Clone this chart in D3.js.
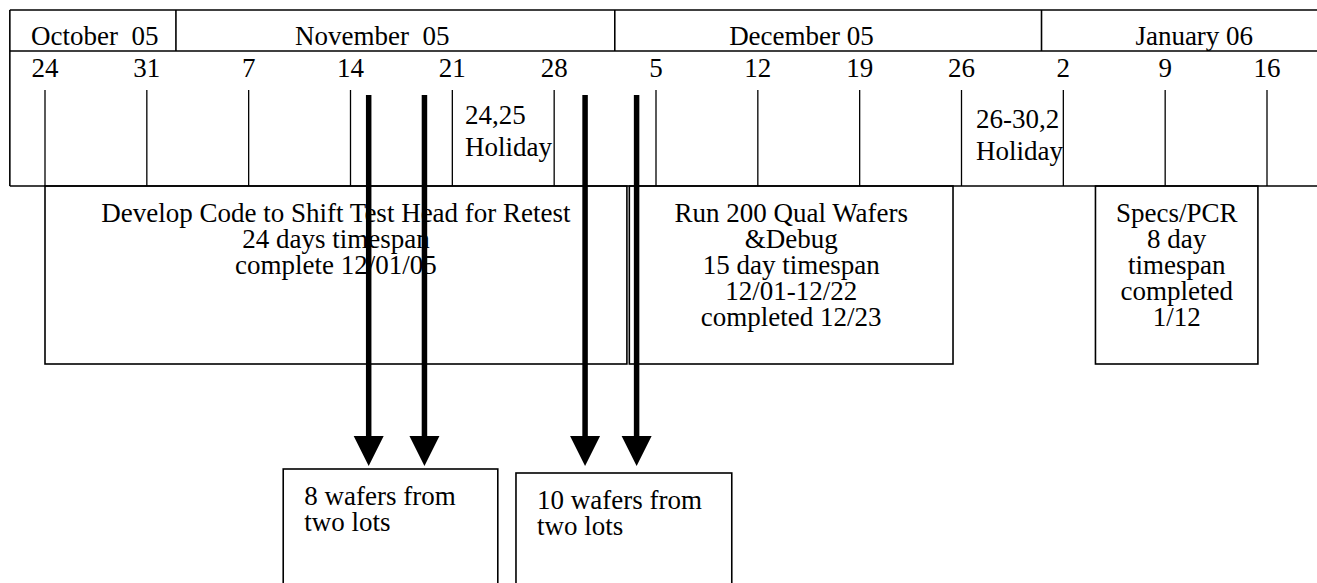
<!DOCTYPE html>
<html>
<head>
<meta charset="utf-8">
<script src="https://cdn.jsdelivr.net/npm/d3@7"></script>
<style>
  html, body { margin: 0; padding: 0; background: #fff; }
  svg text { font-family: "Liberation Serif", "Times New Roman", serif; font-size: 27px; fill: #000; white-space: pre; }
</style>
</head>
<body>
<div id="chart"></div>
<script>
// calendar header
var months = ["October  05", "November  05", "December 05", "January 06"];
var monthEdges = ["2005-10-21T14:00", "2005-11-02T00:00", "2005-12-02T04:00", "2005-12-31T12:00", "2006-01-21T00:00"];
var monthLabelDates = ["2005-10-27T10:00", "2005-11-15T12:00", "2005-12-15T00:00", "2006-01-11T00:00"];
var weekStarts = ["2005-10-24", "2005-10-31", "2005-11-07", "2005-11-14", "2005-11-21", "2005-11-28",
                  "2005-12-05", "2005-12-12", "2005-12-19", "2005-12-26", "2006-01-02", "2006-01-09", "2006-01-16"];

// holidays written inside the week row
var holidayLabels = [["24,25", "Holiday"], ["26-30,2", "Holiday"]];
var holidayDates = ["2005-11-21T21:00", "2005-12-27T00:00"];

// schedule boxes
var taskLabels = [
  ["Develop Code to Shift Test Head for Retest", "24 days timespan", "complete 12/01/05"],
  ["Run 200 Qual Wafers", "&Debug", "15 day timespan", "12/01-12/22", "completed 12/23"],
  ["Specs/PCR", "8 day", "timespan", "completed", "1/12"]
];
var taskStarts = ["2005-10-24T00:00", "2005-12-03T04:00", "2006-01-04T05:00"];
var taskEnds = ["2005-12-03T00:00", "2005-12-25T10:00", "2006-01-15T09:00"];

// wafer runs (arrows) and the lots they feed
var waferRunDates = ["2005-11-15T06:00", "2005-11-19T02:00", "2005-11-30T03:00", "2005-12-03T16:00"];
var lotLabels = [["8 wafers from", "two lots"], ["10 wafers from", "two lots"]];
var lotStarts = ["2005-11-09T09:00", "2005-11-25T09:00"];
var lotEnds = ["2005-11-24T03:00", "2005-12-10T05:00"];

var width = 1317, height = 583;
var top_y = 10, month_row_y = 51, header_bottom = 186,
    tick_top = 90, box_bottom = 364, arrow_top = 95, arrow_tip = 466,
    line_pitch = 26;

var parse = d3.isoParse;
var x = d3.scaleTime()
    .domain([parse("2005-10-24"), parse("2006-01-16")])
    .range([45, 1267]);

var svg = d3.select("#chart").append("svg")
    .attr("width", width)
    .attr("height", height);

var g = svg.append("g")
    .attr("fill", "none")
    .attr("stroke", "#000");

// header frame
var left = x(parse(monthEdges[0]));
[top_y, month_row_y, header_bottom].forEach(function (y) {
  g.append("line").attr("x1", left).attr("x2", width).attr("y1", y).attr("y2", y).attr("stroke-width", 1.6);
});
g.append("line").attr("x1", left).attr("x2", left).attr("y1", top_y).attr("y2", header_bottom).attr("stroke-width", 1.6);

// month dividers
g.selectAll(".month-div")
    .data(monthEdges.slice(1, -1))
    .enter().append("line")
    .attr("x1", function (d) { return x(parse(d)); })
    .attr("x2", function (d) { return x(parse(d)); })
    .attr("y1", top_y)
    .attr("y2", month_row_y)
    .attr("stroke-width", 1.6);

svg.selectAll(".month-label")
    .data(months)
    .enter().append("text")
    .attr("x", function (d, i) { return x(parse(monthLabelDates[i])); })
    .attr("y", 45)
    .attr("text-anchor", "middle")
    .text(function (d) { return d; });

// week ticks
var fmtDay = d3.timeFormat("%-d");
g.selectAll(".week-tick")
    .data(weekStarts)
    .enter().append("line")
    .attr("x1", function (d) { return x(parse(d)); })
    .attr("x2", function (d) { return x(parse(d)); })
    .attr("y1", tick_top)
    .attr("y2", header_bottom)
    .attr("stroke-width", 1.3);

svg.selectAll(".week-label")
    .data(weekStarts)
    .enter().append("text")
    .attr("x", function (d) { return x(parse(d)); })
    .attr("y", 77)
    .attr("text-anchor", "middle")
    .text(function (d) { return fmtDay(parse(d)); });

// holidays
holidayLabels.forEach(function (lines, i) {
  var t = svg.append("text")
      .attr("x", x(parse(holidayDates[i])))
      .attr("y", i === 0 ? 124 : 128);
  lines.forEach(function (s, j) {
    t.append("tspan")
        .attr("x", x(parse(holidayDates[i])))
        .attr("dy", j === 0 ? 0 : 32)
        .text(s);
  });
});

// task boxes
taskLabels.forEach(function (lines, i) {
  var x0 = x(parse(taskStarts[i])), x1 = x(parse(taskEnds[i]));
  g.append("rect")
      .attr("x", x0).attr("y", header_bottom)
      .attr("width", x1 - x0).attr("height", box_bottom - header_bottom)
      .attr("stroke-width", 1.6);
  var t = svg.append("text").attr("text-anchor", "middle").attr("y", 222);
  lines.forEach(function (s, j) {
    t.append("tspan")
        .attr("x", (x0 + x1) / 2)
        .attr("dy", j === 0 ? 0 : line_pitch)
        .text(s);
  });
});

// lot boxes below
lotLabels.forEach(function (lines, i) {
  var x0 = x(parse(lotStarts[i])), x1 = x(parse(lotEnds[i]));
  var y0 = i === 0 ? 469 : 473;
  g.append("rect")
      .attr("x", x0).attr("y", y0)
      .attr("width", x1 - x0).attr("height", height - y0 + 10)
      .attr("stroke-width", 1.6);
  var t = svg.append("text").attr("y", y0 + 36);
  lines.forEach(function (s, j) {
    t.append("tspan")
        .attr("x", x0 + 21)
        .attr("dy", j === 0 ? 0 : line_pitch)
        .text(s);
  });
});

// arrows
var head_w = 15, head_h = 30;
var arrows = svg.append("g").selectAll(".arrow")
    .data(waferRunDates)
    .enter().append("g");

arrows.append("line")
    .attr("x1", function (d) { return x(parse(d)); })
    .attr("x2", function (d) { return x(parse(d)); })
    .attr("y1", arrow_top)
    .attr("y2", arrow_tip - head_h + 2)
    .attr("stroke", "#000")
    .attr("stroke-width", 5.5);

arrows.append("path")
    .attr("d", function (d) {
      var cx = x(parse(d));
      var p = d3.path();
      p.moveTo(cx - head_w, arrow_tip - head_h);
      p.lineTo(cx + head_w, arrow_tip - head_h);
      p.lineTo(cx, arrow_tip);
      p.closePath();
      return p.toString();
    })
    .attr("fill", "#000");
</script>
</body>
</html>
